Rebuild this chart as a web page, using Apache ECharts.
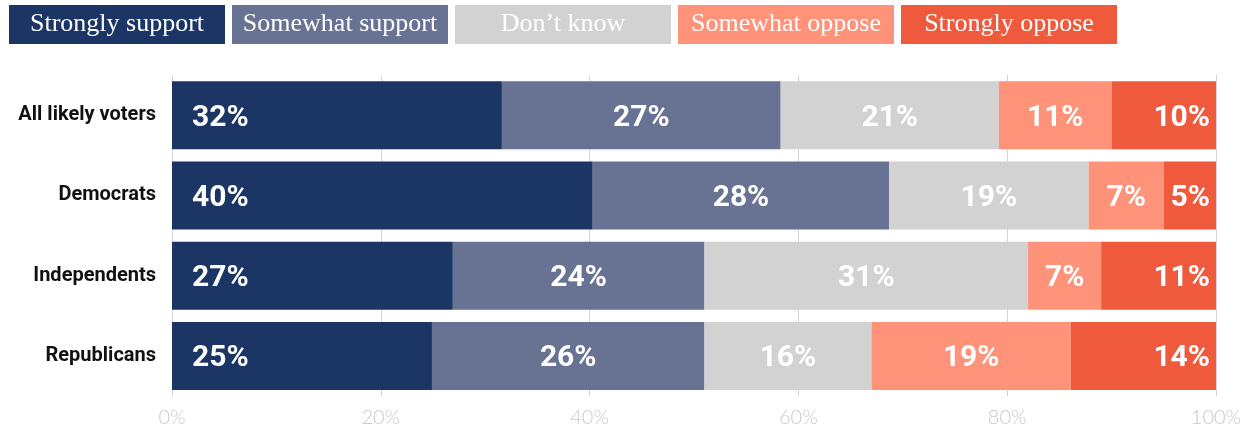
<!DOCTYPE html>
<html>
<head>
<meta charset="utf-8">
<title>Support and opposition by party</title>
<script src="https://cdn.jsdelivr.net/npm/echarts@6/dist/echarts.min.js"></script>
<style>
  html, body { margin: 0; padding: 0; background: #fff; }
  #chart { width: 1252px; height: 430px; }
</style>
</head>
<body>
<div id="chart"></div>
<script>
// Groups shown as rows, top to bottom
const categories = ['All likely voters', 'Democrats', 'Independents', 'Republicans'];

// Response shares (percent of each group)
const strongSupport = [31.6, 40.3, 26.9, 24.9];
const someSupport   = [26.7, 28.4, 24.1, 26.1];
const dontKnow      = [20.9, 19.1, 31.0, 16.0];
const someOppose    = [10.8, 7.2, 7.0, 19.1];
const strongOppose  = [10.0, 5.0, 11.0, 13.9];

const seriesNames = ['Strongly support', 'Somewhat support', 'Don\u2019t know', 'Somewhat oppose', 'Strongly oppose'];
const seriesData = [strongSupport, someSupport, dontKnow, someOppose, strongOppose];
const colors = ['#1b3664', '#687292', '#d2d2d2', '#ff937a', '#f05a3c'];

// X axis ticks
const axisMin = 0, axisMax = 100, axisStep = 20;

const chart = echarts.init(document.getElementById('chart'), null, { renderer: 'canvas' });

// Legend entries drawn as solid coloured boxes with centred serif text
const legendRich = {};
colors.forEach((c, i) => {
  legendRich['s' + i] = {
    width: 216, height: 39, lineHeight: 41,
    align: 'center',
    backgroundColor: c, color: '#ffffff',
    fontFamily: '"Liberation Serif", serif', fontSize: 26
  };
});

function labelFor(i) {
  const base = {
    show: true,
    color: '#ffffff',
    fontFamily: 'Roboto, sans-serif',
    fontWeight: 'bold',
    fontSize: 30,
    offset: [0, 3],
    formatter: p => Math.round(p.value) + '%'
  };
  if (i === 0) return Object.assign(base, { position: 'insideLeft', distance: 20 });
  if (i === seriesNames.length - 1) return Object.assign(base, { position: 'insideRight', distance: 6 });
  return Object.assign(base, { position: 'inside' });
}

const option = {
  animation: false,
  backgroundColor: '#ffffff',
  legend: {
    left: 4, top: 5, padding: 0,
    itemGap: 2, itemWidth: 0, itemHeight: 39,
    icon: 'none',
    selectedMode: false,
    data: seriesNames,
    formatter: name => '{s' + seriesNames.indexOf(name) + '|' + name + '}',
    textStyle: { rich: legendRich }
  },
  grid: { left: 172, right: 36, top: 75, bottom: 34, containLabel: false },
  xAxis: {
    type: 'value',
    min: axisMin, max: axisMax, interval: axisStep,
    axisLine: { show: false },
    axisTick: { show: false },
    splitLine: { show: true, lineStyle: { color: '#d4d4d4', width: 1 } },
    axisLabel: {
      formatter: '{value}%',
      color: '#c9c9c9',
      fontFamily: 'Lato, sans-serif',
      fontWeight: 300,
      fontSize: 20,
      margin: 12
    }
  },
  yAxis: {
    type: 'category',
    data: categories,
    inverse: true,
    axisLine: { show: false },
    axisTick: { show: false },
    axisLabel: {
      color: '#111111',
      fontFamily: 'Roboto, sans-serif',
      fontWeight: 'bold',
      fontSize: 20,
      padding: [6, 0, 0, 0],
      margin: 16
    }
  },
  series: seriesNames.map((name, i) => ({
    name: name,
    type: 'bar',
    stack: 'total',
    barWidth: 68,
    itemStyle: { color: colors[i] },
    label: labelFor(i),
    emphasis: { disabled: true },
    data: seriesData[i]
  }))
};

chart.setOption(option);
</script>
</body>
</html>
